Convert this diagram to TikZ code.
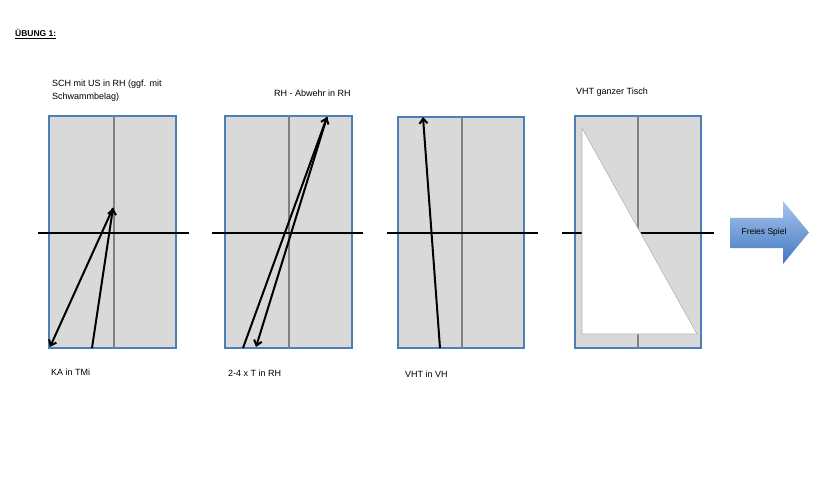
\documentclass[tikz,border=0pt]{standalone}
\usepackage{fontspec}
\setmainfont{Liberation Sans}
\usetikzlibrary{arrows.meta}

\definecolor{tischgrau}{HTML}{D9D9D9}
\definecolor{tischrand}{HTML}{4F7DB8}
\definecolor{pfeilhell}{HTML}{A7C5EE}
\definecolor{pfeildunkel}{HTML}{4277C0}

\tikzset{
    tisch/.style={fill=tischgrau, draw=tischrand, line width=1.3pt},
    mittellinie/.style={draw=gray, line width=1.5pt},
    netz/.style={draw=black, line width=2pt},
    schlag/.style={->, line width=2pt},
    beschriftung/.style={anchor=base west, inner sep=0pt, font=\fontsize{9}{13}\selectfont}
}

\begin{document}
\begin{tikzpicture}[x=1pt, y=-1pt, >={Straight Barb[length=5pt, width=8pt]}]

\useasboundingbox (0,0) rectangle (820,500);


% Titel

\node[
    beschriftung,
    font=\fontsize{8.5}{10}\selectfont\bfseries
] (titel) at (15,37) {\underline{ÜBUNG 1:}};


% Tisch 1: SCH mit US

\draw[tisch] (49,116) rectangle (176,348);
\draw[mittellinie] (114,116) -- (114,348);
\draw[netz] (38,233) -- (189,233);

\coordinate (t1mitte) at (113,208);
\coordinate (t1ka) at (92,348);
\coordinate (t1links) at (50,347);

\draw[schlag] (t1ka) -- (t1mitte);
\draw[schlag] (t1mitte) -- (t1links);

\node[
    beschriftung,
    anchor=north west,
    align=left
] (sch) at (52,79.5) {SCH mit US in RH (ggf. mit\\Schwammbelag)};

\node[beschriftung] (ka) at (51,375) {KA in TMi};


% Tisch 2: RH - Abwehr

\draw[tisch] (225,116) rectangle (352,348);
\draw[mittellinie] (289,116) -- (289,348);
\draw[netz] (212,233) -- (363,233);

\coordinate (t2oben) at (327,117);
\coordinate (t2start) at (243,348);
\coordinate (t2unten) at (256,347);

\draw[schlag] (t2start) -- (t2oben);
\draw[schlag] (t2oben) -- (t2unten);

\node[beschriftung] (abwehr) at (274,97) {RH - Abwehr in RH};

\node[beschriftung] (topspin) at (228,376) {2-4 x T in RH};


% Tisch 3: VHT in VH

\draw[tisch] (398,117) rectangle (524,348);
\draw[mittellinie] (462,117) -- (462,348);
\draw[netz] (387,233) -- (538,233);

\coordinate (t3start) at (440,348);
\coordinate (t3oben) at (423,117);

\draw[schlag] (t3start) -- (t3oben);

\node[beschriftung] (vht) at (405,377) {VHT in VH};


% Tisch 4: VHT ganzer Tisch

\draw[tisch] (575,116) rectangle (701,348);
\draw[mittellinie] (638,116) -- (638,348);
\draw[netz] (562,233) -- (714,233);

\filldraw[
    fill=white,
    draw=gray!60,
    line width=0.6pt
] (582,128) -- (582,334) -- (697,334) -- cycle;

\node[beschriftung] (ganzer) at (576,95) {VHT ganzer Tisch};


% Pfeil: Freies Spiel

\shade[
    top color=pfeilhell,
    bottom color=pfeildunkel
] (730,218) -- (783,218) -- (783,201) -- (809,232.5)
    -- (783,264) -- (783,248) -- (730,248) -- cycle;

\node[
    inner sep=0pt,
    font=\fontsize{8.5}{10}\selectfont
] (frei) at (764,232.5) {Freies Spiel};

\end{tikzpicture}
\end{document}
